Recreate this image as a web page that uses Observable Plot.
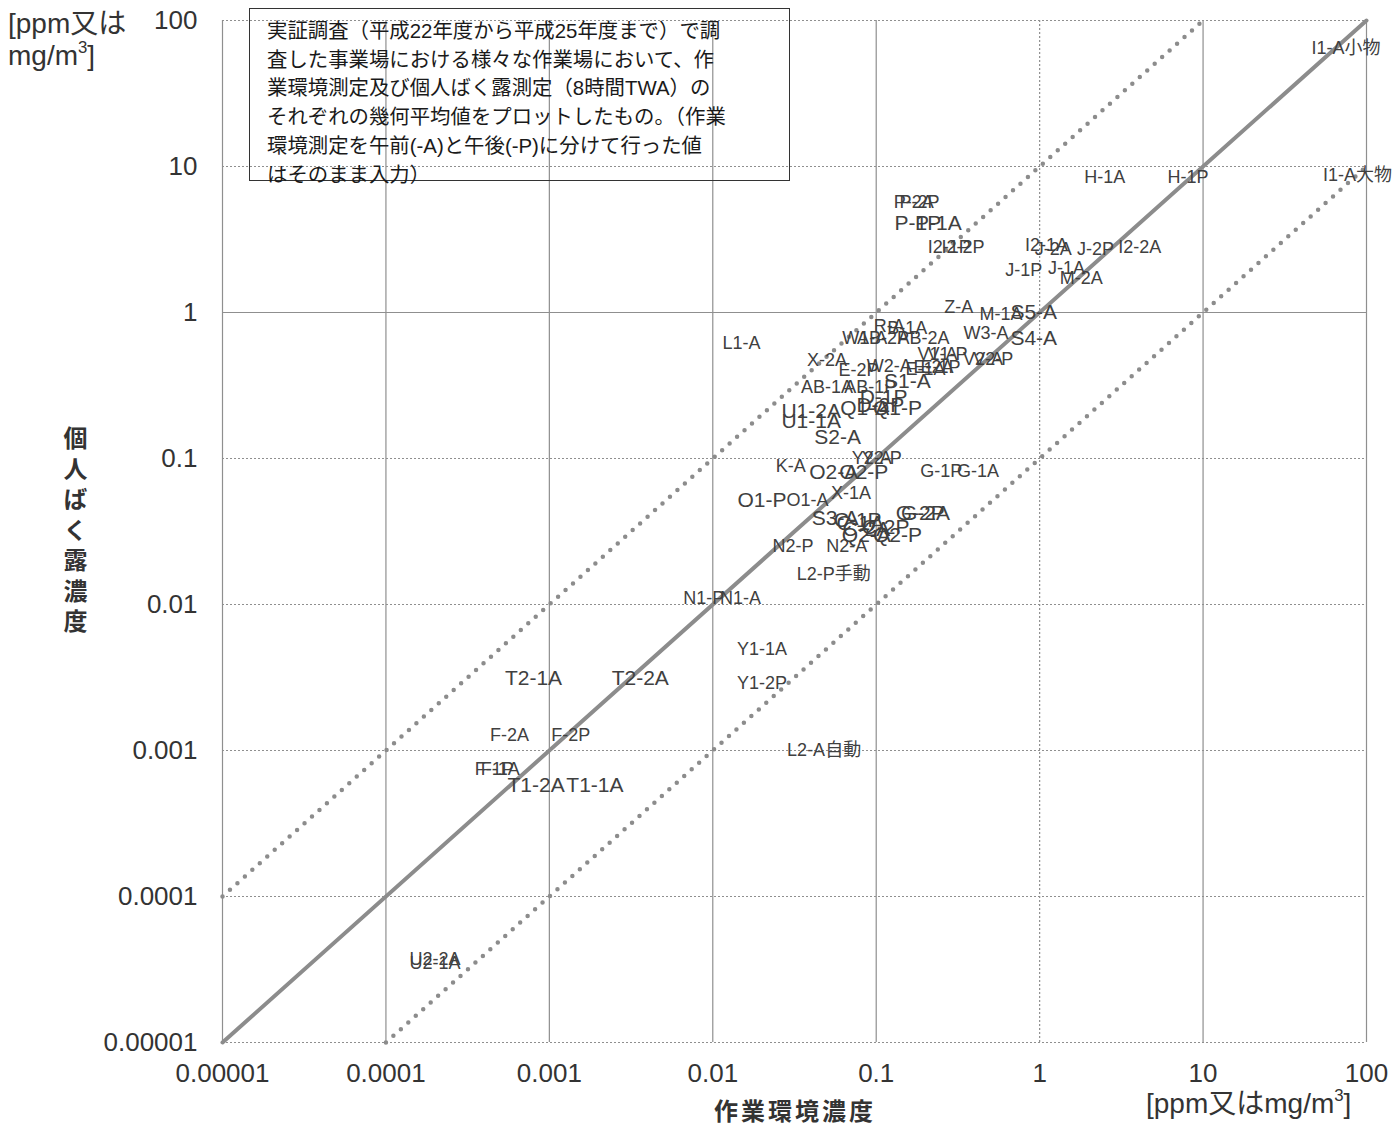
<!DOCTYPE html>
<html><head><meta charset="utf-8">
<script src="https://cdn.jsdelivr.net/npm/d3@7"></script>
<script src="https://cdn.jsdelivr.net/npm/@observablehq/plot@0.6"></script>
<style>
body{margin:0;background:#fff;}
#wrap{position:relative;width:1400px;height:1127px;font-family:"Liberation Sans",Arial,"Noto Sans CJK JP",sans-serif;color:#333;}
#wrap svg{position:absolute;left:0;top:0;}
.ov{position:absolute;white-space:nowrap;}
#unitTL{left:8px;top:8px;font-size:28px;line-height:32px;color:#333;}
#unitBR{left:1146px;top:1088px;font-size:28px;line-height:32px;color:#333;}
#yTitle{left:62px;top:426px;font-size:24px;line-height:26px;font-weight:bold;writing-mode:vertical-rl;letter-spacing:6.5px;color:#333;font-family:"Noto Sans CJK JP",sans-serif;}
#xTitle{left:714px;top:1097px;font-size:24px;line-height:26px;font-weight:bold;letter-spacing:3px;color:#333;font-family:"Noto Sans CJK JP",sans-serif;}
#note{left:249px;top:8px;width:522px;height:163px;border:1.6px solid #333;padding:8px 0 0 17px;font-size:20.4px;line-height:28.7px;color:#1a1a1a;font-family:"Liberation Sans","Noto Sans CJK JP",sans-serif;}
sup{font-size:60%;vertical-align:0.7em;line-height:0;}
</style></head><body><div id="wrap"></div>
<script>
// ---- data (作業環境濃度 vs 個人ばく露濃度, geometric means) ----
const labels = [
  "I1-A小物","I1-A大物","H-1A","H-1P","P-2A","P-2P","P-1P","P-1A","I2-1P","I2-2P",
  "I2-1A","J-2A","J-2P","I2-2A","J-1P","J-1A","M-2A","Z-A","M-1A","S5-A",
  "S4-A","W3-A","L1-A","R-A","B-1A","W1-A","AB-2P","AB-2A","X-2A","V1-A",
  "V1-P","V2-A","V2-P","E-2P","W2-A","E-1A","E-2A","E-1P","S1-A","AB-1A",
  "AB-1P","D-1P","Q1-A","D-2P","Q1-P","U1-2A","U1-1A","S2-A","Y2-A","Y2-P",
  "K-A","O2-A","O2-P","G-1P","G-1A","X-1A","O1-P","O1-A","S3-A","C-1P",
  "C-1A","C-2A","C-2P","G-2P","G-2A","Q2-A","Q2-P","N2-P","N2-A","L2-P手動",
  "N1-P","N1-A","Y1-1A","Y1-2P","T2-1A","T2-2A","F-2A","F-2P","F-1P","F-1A",
  "T1-2A","T1-1A","L2-A自動","U2-2A","U2-1A"
];
const workEnvConc = [
  75, 88, 2.5, 8.1, 0.17, 0.184, 0.18, 0.24, 0.28, 0.34,
  1.1, 1.21, 2.2, 4.1, 0.8, 1.46, 1.8, 0.32, 0.58, 0.92,
  0.92, 0.47, 0.015, 0.12, 0.155, 0.085, 0.11, 0.195, 0.05, 0.237,
  0.273, 0.45, 0.52, 0.078, 0.12, 0.2, 0.224, 0.247, 0.155, 0.05,
  0.092, 0.111, 0.085, 0.106, 0.135, 0.04, 0.04, 0.058, 0.094, 0.108,
  0.03, 0.055, 0.084, 0.25, 0.42, 0.07, 0.02, 0.038, 0.056, 0.077,
  0.08, 0.087, 0.114, 0.186, 0.2, 0.087, 0.135, 0.031, 0.066, 0.055,
  0.0088, 0.0148, 0.02, 0.02, 0.0008, 0.0036, 0.00057, 0.00135, 0.00046, 0.0005,
  0.00083, 0.0019, 0.048, 0.0002, 0.0002
];
const personalConc = [
  65, 8.7, 8.5, 8.5, 5.7, 5.7, 4.1, 4.1, 2.8, 2.8,
  2.9, 2.7, 2.7, 2.8, 1.94, 2.0, 1.71, 1.08, 0.98, 1.0,
  0.67, 0.72, 0.62, 0.80, 0.78, 0.67, 0.67, 0.67, 0.47, 0.52,
  0.52, 0.48, 0.48, 0.40, 0.43, 0.41, 0.42, 0.42, 0.34, 0.31,
  0.31, 0.262, 0.22, 0.23, 0.22, 0.21, 0.18, 0.14, 0.10, 0.10,
  0.088, 0.08, 0.08, 0.082, 0.082, 0.058, 0.052, 0.052, 0.039, 0.038,
  0.036, 0.033, 0.034, 0.042, 0.042, 0.030, 0.030, 0.025, 0.025, 0.016,
  0.011, 0.011, 0.0049, 0.0029, 0.0031, 0.0031, 0.00127, 0.00127, 0.00075, 0.00075,
  0.00058, 0.00058, 0.001, 0.000037, 0.000035
];
const axisTicks = [0.00001, 0.0001, 0.001, 0.01, 0.1, 1, 10, 100];
const ratioLines = [1, 10, 0.1];   // y = x, y = 10x, y = x/10

// ---- styling (separate from data) ----
const largeLabels = new Set(["P-1P","P-1A","S5-A","S4-A","S1-A","D-1P","Q1-A","D-2P","Q1-P",
  "U1-2A","U1-1A","S2-A","O2-A","O2-P","O1-P","S3-A","C-1P","C-1A","C-2A","C-2P",
  "G-2P","G-2A","Q2-A","Q2-P","T2-1A","T2-2A","T1-2A","T1-1A"]);

const points = labels.map((name, i) => ({name, x: workEnvConc[i], y: personalConc[i]}));
const [dMin, dMax] = [axisTicks[0], axisTicks[axisTicks.length - 1]];
const refSegs = ratioLines.map(r => {
  const x0 = Math.max(dMin, dMin / r), x1 = Math.min(dMax, dMax / r);
  return {r, pts: [{x: x0, y: x0 * r}, {x: x1, y: x1 * r}]};
});
const fmt = d => d.toFixed(Math.max(0, -Math.round(Math.log10(d))));
const labelFont = '"Liberation Sans", Arial, "Noto Sans CJK JP", sans-serif';

const chart = Plot.plot({
  width: 1400, height: 1127,
  marginLeft: 222, marginRight: 34, marginTop: 20, marginBottom: 85,
  x: {type: "log", domain: [dMin, dMax], label: null},
  y: {type: "log", domain: [dMin, dMax], label: null},
  style: {fontFamily: labelFont, fontSize: "26px", color: "#333", background: "transparent"},
  marks: [
    Plot.ruleX(axisTicks.filter(d => d !== 1), {stroke: "#8f8f8f", strokeWidth: 1.2, strokeOpacity: 1}),
    Plot.ruleX(axisTicks.filter(d => d === 1), {stroke: "#8f8f8f", strokeWidth: 1.2, strokeDasharray: "2,2", strokeOpacity: 1}),
    Plot.ruleY(axisTicks.filter(d => d !== 1), {stroke: "#8f8f8f", strokeWidth: 1.2, strokeDasharray: "2,2", strokeOpacity: 1}),
    Plot.ruleY(axisTicks.filter(d => d === 1), {stroke: "#8f8f8f", strokeWidth: 1.2, strokeOpacity: 1}),
    ...refSegs.map(s => Plot.line(s.pts, {x: "x", y: "y", stroke: "#8c8c8c",
      strokeWidth: s.r === 1 ? 4 : 4.5,
      strokeDasharray: s.r === 1 ? null : "0,10",
      strokeLinecap: "round"})),
    Plot.text(points.filter(d => !largeLabels.has(d.name)), {x: "x", y: "y", text: "name",
      fontSize: 18, fill: "#404040", fontFamily: labelFont}),
    Plot.text(points.filter(d => largeLabels.has(d.name)), {x: "x", y: "y", text: "name",
      fontSize: 21, fill: "#404040", fontFamily: labelFont}),
    Plot.axisX({ticks: axisTicks, tickFormat: fmt, tickSize: 0, tickPadding: 21, label: null}),
    Plot.axisY({ticks: axisTicks, tickFormat: fmt, tickSize: 0, tickPadding: 25, label: null})
  ]
});
const wrap = document.getElementById("wrap");
wrap.appendChild(chart);

function addDiv(id, html) {
  const d = document.createElement("div");
  d.id = id; d.className = "ov"; d.innerHTML = html;
  wrap.appendChild(d);
}
addDiv("unitTL", "[ppm又は<br>mg/m<sup>3</sup>]");
addDiv("unitBR", "[ppm又はmg/m<sup>3</sup>]");
addDiv("yTitle", "個人ばく露濃度");
addDiv("xTitle", "作業環境濃度");
addDiv("note", "実証調査（平成22年度から平成25年度まで）で調<br>査した事業場における様々な作業場において、作<br>業環境測定及び個人ばく露測定（8時間TWA）の<br>それぞれの幾何平均値をプロットしたもの。（作業<br>環境測定を午前(-A)と午後(-P)に分けて行った値<br>はそのまま入力）");
</script>
</body></html>
